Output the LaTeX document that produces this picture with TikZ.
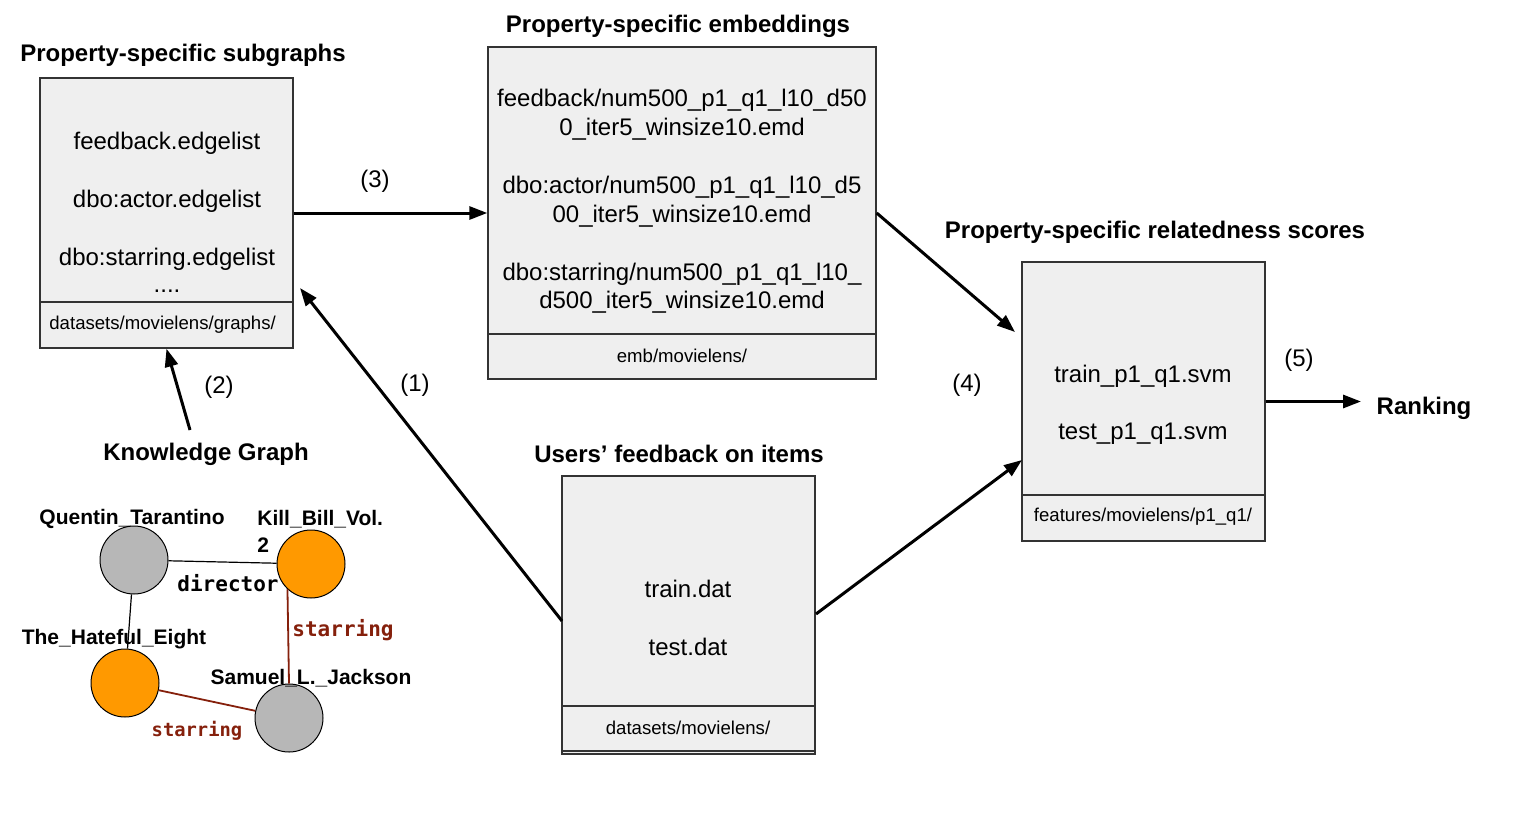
\documentclass[tikz,border=0pt]{standalone}
\usepackage{fontspec}
\setmainfont{Liberation Sans}
\newfontfamily\kgmono{DejaVu Sans Mono}
\usetikzlibrary{arrows.meta,calc}
\definecolor{boxfill}{HTML}{EFEFEF}
\definecolor{boxline}{HTML}{333333}
\definecolor{entgray}{HTML}{B7B7B7}
\definecolor{entorange}{HTML}{FF9900}
\definecolor{relred}{HTML}{85200C}
\begin{document}
\begin{tikzpicture}[x=0.5pt,y=-0.5pt,
  box/.style={draw=boxline, fill=boxfill, line width=0.7pt, inner sep=0, rectangle},
  txt/.style={font=\fontsize{12}{14}\selectfont, inner sep=0},
  small/.style={font=\fontsize{9.3}{11}\selectfont, inner sep=0},
  ttl/.style={font=\bfseries\fontsize{12}{14}\selectfont, inner sep=0},
  kgl/.style={font=\bfseries\fontsize{10.5}{12}\selectfont, inner sep=0},
  monol/.style={font=\kgmono\bfseries\fontsize{10.5}{12}\selectfont, inner sep=0},
  monos/.style={font=\kgmono\bfseries\fontsize{9.4}{11}\selectfont, inner sep=0},
  arr/.style={line width=1.5pt, -{Triangle[length=9pt,width=6.5pt]}},
  ent/.style={circle, draw=black, line width=0.5pt, minimum size=34pt, inner sep=0},
  sep/.style={draw=boxline, line width=0.6pt}]
\useasboundingbox (0,0) rectangle (1534,824);

% boxes
\node[box, minimum width=126.5pt, minimum height=135pt] (sub) at (166.5,213) {};
\node[box, minimum width=194pt, minimum height=166pt] (emb) at (682,213) {};
\node[box, minimum width=126.5pt, minimum height=139pt] (fb) at (688.5,615) {};
\node[box, minimum width=121.5pt, minimum height=139.5pt] (rel) at (1143.5,401.5) {};

% separators
\draw[sep] (sub.west |- 0,302) -- (sub.east |- 0,302);
\draw[sep] (emb.west |- 0,334) -- (emb.east |- 0,334);
\draw[sep] (fb.west |- 0,706) -- (fb.east |- 0,706);
\draw[sep] (fb.west |- 0,751) -- (fb.east |- 0,751);
\draw[sep] (rel.west |- 0,495) -- (rel.east |- 0,495);

% titles
\node[ttl] (tsub) at (183,55) {Property-specific subgraphs};
\node[ttl] (temb) at (678,26) {Property-specific embeddings};
\node[ttl] (tfb) at (679,454) {Users’ feedback on items};
\node[ttl] (trel) at (1155,232) {Property-specific relatedness scores};
\node[ttl] (kg) at (206,454) {Knowledge Graph};
\node[ttl] (rank) at (1424,408) {Ranking};

% box 1 contents
\node[txt] (s1) at (167,143) {feedback.edgelist};
\node[txt] (s2) at (167,201) {dbo:actor.edgelist};
\node[txt] (s3) at (167,259) {dbo:starring.edgelist};
\node[txt] (s4) at (167,291) {....};
\node[small, anchor=west] (s5) at (49,325) {datasets/movielens/graphs/};

% box 2 contents
\node[txt] (e1) at (682,100) {feedback/num500\_p1\_q1\_l10\_d50};
\node[txt] (e2) at (682,129) {0\_iter5\_winsize10.emd};
\node[txt] (e3) at (682,187) {dbo:actor/num500\_p1\_q1\_l10\_d5};
\node[txt] (e4) at (682,216) {00\_iter5\_winsize10.emd};
\node[txt] (e5) at (682,274) {dbo:starring/num500\_p1\_q1\_l10\_};
\node[txt] (e6) at (682,302) {d500\_iter5\_winsize10.emd};
\node[small] (e7) at (682,356) {emb/movielens/};

% box 3 contents
\node[txt] (f1) at (688,589) {train.dat};
\node[txt] (f2) at (688,647) {test.dat};
\node[small] (f3) at (688,728) {datasets/movielens/};

% box 4 contents
\node[txt] (r1) at (1143,376) {train\_p1\_q1.svm};
\node[txt] (r2) at (1143,434) {test\_p1\_q1.svm};
\node[small] (r3) at (1143,517) {features/movielens/p1\_q1/};

% step labels
\node[txt] (l1) at (415,385) {(1)};
\node[txt] (l2) at (219,387) {(2)};
\node[txt] (l3) at (375,181) {(3)};
\node[txt] (l4) at (967,385) {(4)};
\node[txt] (l5) at (1299,360) {(5)};

% arrows
\coordinate (c1) at (300,288);
\coordinate (c2) at (190,430);
\coordinate (c4a) at (1015,332);
\coordinate (c4b) at (1022,460);
\coordinate (c1s) at (562,621);
\coordinate (c4s) at (816,614);
\coordinate (c5) at (1361,401.5);
\draw[arr] (sub.east) -- (emb.west);
\draw[arr] (c2) -- (sub.south);
\draw[arr] (c1s) -- (c1);
\draw[arr] (emb.east) -- (c4a);
\draw[arr] (c4s) -- (c4b);
\draw[arr] (rel.east) -- (c5);

% knowledge graph
\node[ent, fill=entgray] (qt) at (134,560) {};
\node[ent, fill=entorange] (kb) at (311,564) {};
\node[ent, fill=entorange] (he) at (125,683) {};
\node[ent, fill=entgray] (slj) at (289,718) {};
\draw[line width=0.6pt] (qt) -- (kb);
\draw[line width=0.6pt] (qt) -- (he);
\draw[relred, line width=0.9pt] (kb.227) -- (slj.north);
\draw[relred, line width=0.9pt] (he) -- (slj);

\node[kgl] (nqt) at (132,519) {Quentin\_Tarantino};
\node[kgl, anchor=west] (nkb) at (257,519) {Kill\_Bill\_Vol.};
\node[kgl, anchor=west] (nkb2) at (257,545) {2};
\node[kgl] (nhe) at (114,639) {The\_Hateful\_Eight};
\node[kgl] (nslj) at (311,678) {Samuel\_L.\_Jackson};
\node[monol] (ldir) at (228,583) {director};
\node[monol, text=relred] (lst1) at (343,630) {starring};
\node[monos, text=relred] (lst2) at (197,731) {starring};
\end{tikzpicture}
\end{document}
